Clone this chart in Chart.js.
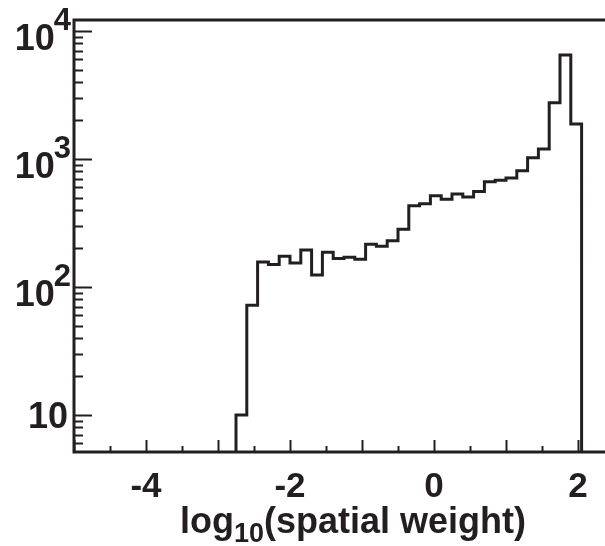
<!DOCTYPE html>
<html>
<head>
<meta charset="utf-8">
<script src="https://cdn.jsdelivr.net/npm/chart.js@4/dist/chart.umd.min.js"></script>
<style>
  html, body { margin: 0; padding: 0; background: #ffffff; overflow: hidden; }
  #wrap { width: 630px; height: 546px; position: relative; }
</style>
</head>
<body>
<div id="wrap"><canvas id="c" width="630" height="546"></canvas></div>
<script>
// Histogram of log10(spatial weight): bin edges and entries per bin
const binEdges = [-2.75, -2.60, -2.45, -2.30, -2.15, -2.00, -1.85, -1.70, -1.55, -1.40,
                  -1.25, -1.10, -0.95, -0.80, -0.65, -0.50, -0.35, -0.20, -0.05, 0.10,
                  0.25, 0.40, 0.55, 0.70, 0.85, 1.00, 1.15, 1.30, 1.45, 1.60,
                  1.75, 1.90, 2.05];
const counts = [10, 72, 157, 150, 174, 154, 195, 124, 187, 167,
                171, 165, 216, 208, 230, 283, 431, 448, 517, 485,
                534, 504, 557, 664, 681, 712, 811, 1023, 1197, 2754,
                6493, 1875];

// Axis ranges and labelled ticks
const xRange = [-5, 2.5];
const yRange = [5.14, 12190];
const xTickLabels = [-4, -2, 0, 2];
const yTickDecades = [1, 2, 3, 4];

const INK = '#231f20';
const FONT = '"Liberation Sans", Arial, Helvetica, sans-serif';

// Outline points: empty bins sit below the visible range
const floorValue = 1;
const points = [{ x: xRange[0], y: floorValue }];
counts.forEach((c, i) => points.push({ x: binEdges[i], y: c }));
points.push({ x: binEdges[binEdges.length - 1], y: floorValue });
points.push({ x: xRange[1], y: floorValue });

const framePlugin = {
  id: 'frameAndLabels',
  afterDatasetsDraw(chart) {
    const { ctx, chartArea: a, scales } = chart;
    const xs = scales.x, ys = scales.y;
    ctx.save();
    ctx.strokeStyle = INK;
    ctx.fillStyle = INK;

    // inward tick marks on the x axis
    ctx.lineWidth = 2;
    ctx.beginPath();
    for (let k = 0; k <= 15; k++) {
      const v = xRange[0] + k * 0.5;
      const px = Math.round(xs.getPixelForValue(v)) + 0.5;
      const len = Number.isInteger(v) ? 12 : 6;
      ctx.moveTo(px, a.bottom);
      ctx.lineTo(px, a.bottom - len);
    }
    // inward tick marks on the log y axis
    for (let d = 0; d <= 4; d++) {
      for (let m = 1; m <= 9; m++) {
        const v = m * Math.pow(10, d);
        if (v < yRange[0] || v > yRange[1]) continue;
        const py = Math.round(ys.getPixelForValue(v)) + 0.5;
        const len = m === 1 ? 18 : 9;
        ctx.moveTo(a.left, py);
        ctx.lineTo(a.left + len, py);
      }
    }
    ctx.stroke();

    // frame
    ctx.lineWidth = 3;
    ctx.strokeRect(a.left, a.top, a.right - a.left, a.bottom - a.top);

    // x tick labels
    ctx.font = 'bold 35px ' + FONT;
    ctx.textAlign = 'center';
    ctx.textBaseline = 'alphabetic';
    xTickLabels.forEach(v => {
      ctx.fillText(String(v), xs.getPixelForValue(v), 497);
    });

    // y tick labels: 10, 10^2, 10^3, 10^4
    const labelRight = 71;
    yTickDecades.forEach(d => {
      const py = ys.getPixelForValue(Math.pow(10, d));
      ctx.textAlign = 'right';
      if (d === 1) {
        ctx.font = 'bold 36px ' + FONT;
        ctx.fillText('10', labelRight - 3, py + 13);
      } else {
        ctx.font = 'bold 31px ' + FONT;
        const supW = ctx.measureText(String(d)).width;
        ctx.fillText(String(d), labelRight, py - 1);
        ctx.font = 'bold 36px ' + FONT;
        ctx.fillText('10', labelRight - supW + 1, py + 19);
      }
    });

    // axis title with subscript
    const mainFont = 'bold 36px ' + FONT;
    const subFont = 'bold 27px ' + FONT;
    ctx.textAlign = 'left';
    ctx.font = mainFont;
    const w1 = ctx.measureText('log').width;
    const w3 = ctx.measureText('(spatial weight)').width;
    ctx.font = subFont;
    const w2 = ctx.measureText('10').width;
    const total = w1 + w2 + w3;
    let tx = (a.left + a.right) / 2 + 9 - total / 2;
    const base = 533;
    ctx.font = mainFont;
    ctx.fillText('log', tx, base);
    tx += w1;
    ctx.font = subFont;
    ctx.fillText('10', tx, base + 9);
    tx += w2;
    ctx.font = mainFont;
    ctx.fillText('(spatial weight)', tx, base);

    ctx.restore();
  }
};

new Chart(document.getElementById('c'), {
  type: 'line',
  data: {
    datasets: [{
      data: points,
      stepped: 'before',
      borderColor: INK,
      borderWidth: 3,
      pointRadius: 0,
      fill: false,
      tension: 0
    }]
  },
  options: {
    responsive: false,
    animation: false,
    devicePixelRatio: 1,
    layout: { padding: { left: 74, top: 20, right: 16, bottom: 94 } },
    plugins: { legend: { display: false }, tooltip: { enabled: false } },
    scales: {
      x: { type: 'linear', min: xRange[0], max: xRange[1], display: false },
      y: { type: 'logarithmic', min: yRange[0], max: yRange[1], display: false }
    }
  },
  plugins: [framePlugin]
});
</script>
</body>
</html>
